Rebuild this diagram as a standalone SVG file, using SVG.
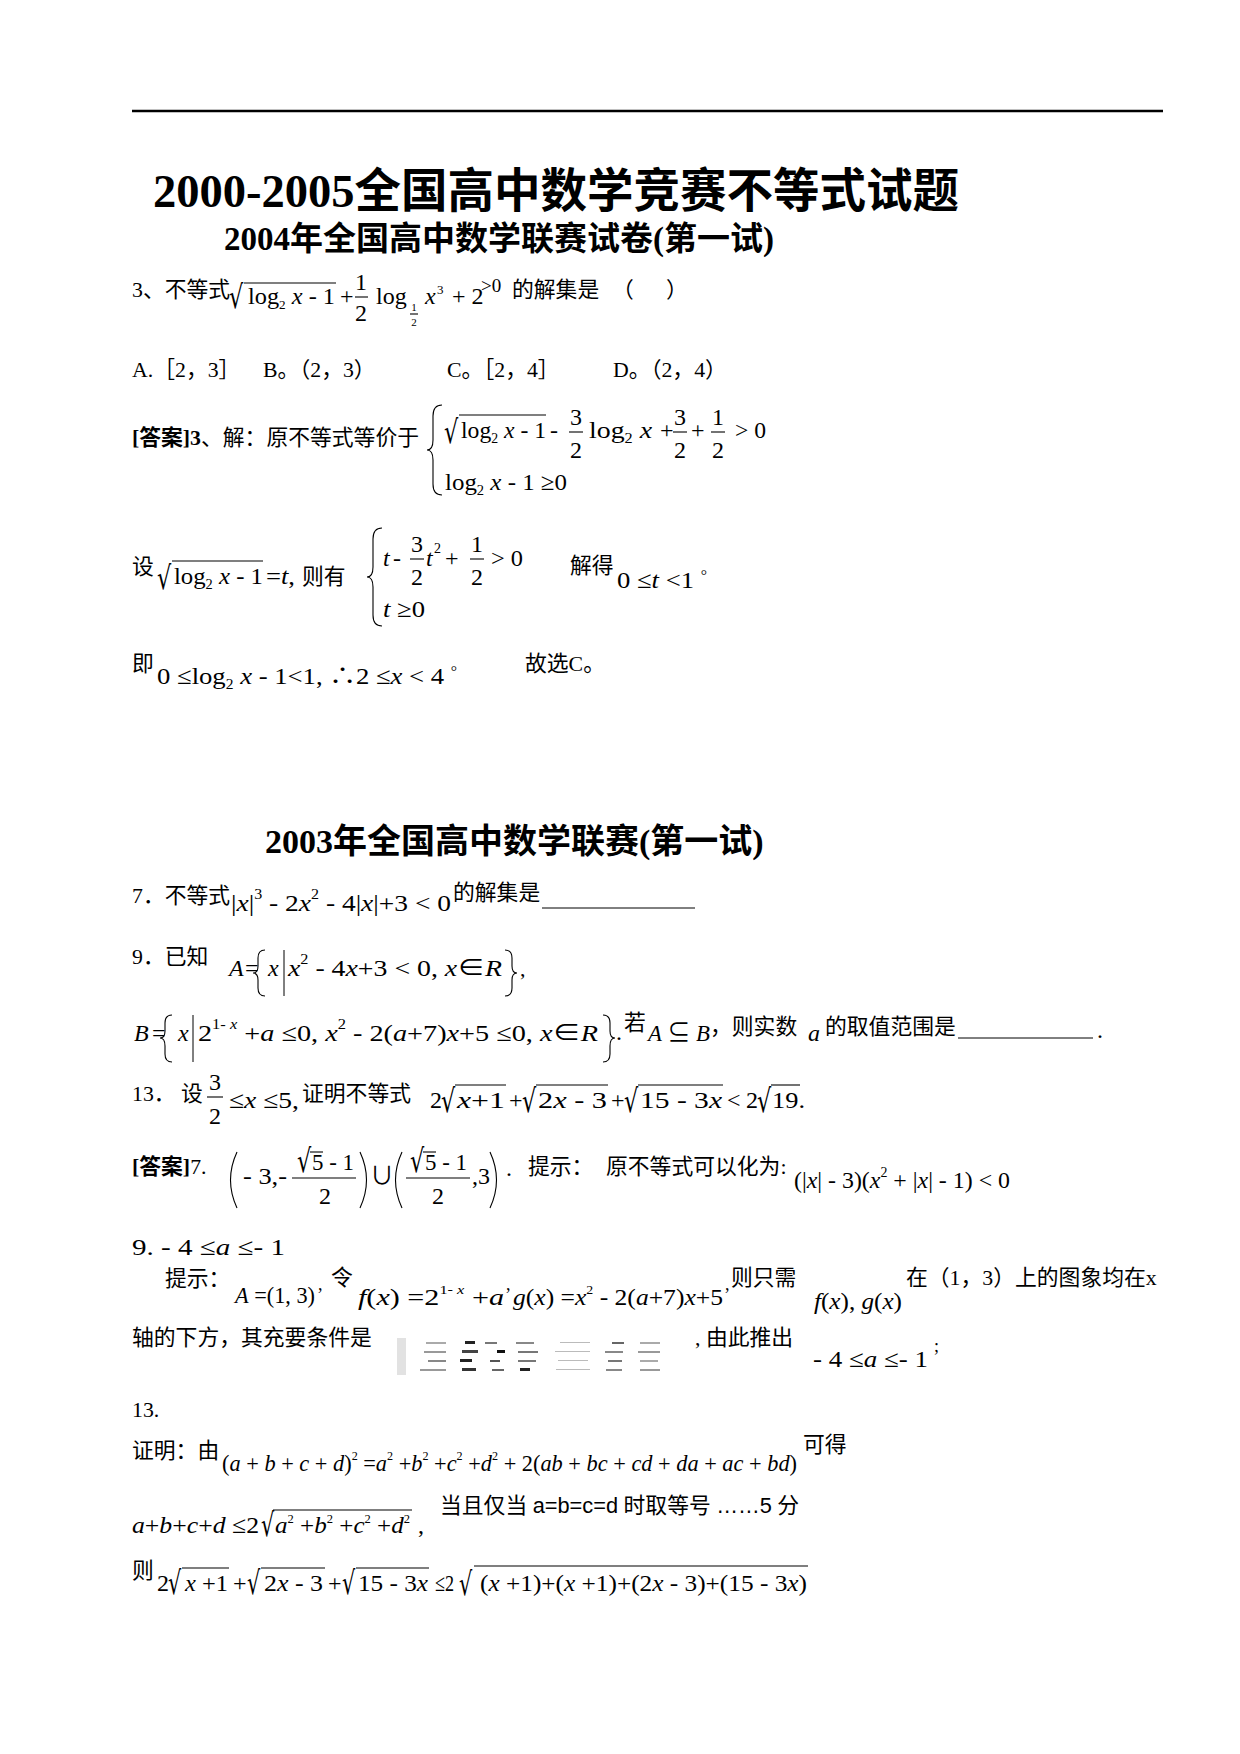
<svg xmlns="http://www.w3.org/2000/svg" width="1240" height="1754" viewBox="0 0 1240 1754">
<style>
text{font-family:"Liberation Serif","Noto Sans CJK SC",serif;fill:#000}
.cn{font-size:21.8px}
.m{font-size:24px}
.v{font-style:italic}
.b{font-weight:bold}
.ln{stroke:#000;stroke-width:1.1;fill:none}
.br{stroke:#000;stroke-width:1.1;fill:none}
.ctr{text-anchor:middle}
.sup{font-size:14px}
.rt{font-family:"DejaVu Serif",serif;font-size:32px}
</style>
<rect width="1240" height="1754" fill="#fff"/>
<line x1="132" y1="111" x2="1163" y2="111" stroke="#000" stroke-width="2.5"/>
<g id="title"><text x="153" y="207" font-size="46.5" class="b">2000-2005全国高中数学竞赛不等式试题</text></g>
<g id="subtitle-2004"><text x="224" y="250" font-size="33" class="b">2004年全国高中数学联赛试卷(第一试)</text></g>

<g id="p3">
<text class="cn" x="132" y="297">3、不等式</text>
<text class="rt" transform="translate(229,308) scale(0.7,1)">√</text>
<line class="ln" x1="244" y1="283" x2="336" y2="283"/>
<text class="m" x="248" y="304" textLength="87" lengthAdjust="spacingAndGlyphs">log<tspan font-size="13" dy="5">2</tspan><tspan class="v" dy="-5"> x</tspan> - 1</text>
<text class="m" x="340" y="304">+</text>
<text class="m ctr" x="361" y="290" font-size="23">1</text>
<line class="ln" x1="355" y1="297" x2="368" y2="297"/>
<text class="m ctr" x="361" y="321" font-size="23">2</text>
<text class="m" x="376" y="304">log</text>
<text class="ctr" x="414" y="311" font-size="11">1</text>
<line class="ln" x1="410" y1="314" x2="418" y2="314" stroke-width="0.8"/>
<text class="ctr" x="414" y="326" font-size="11">2</text>
<text class="m v" x="425" y="304">x</text>
<text x="437" y="294" font-size="13">3</text>
<text class="m" x="452" y="304">+ 2</text>
<text x="481" y="292" font-size="19">&gt;0</text>
<text class="cn" x="512" y="297">的解集是</text>
<text class="cn" x="612" y="297">（</text>
<text class="cn" x="666" y="297">）</text>
</g>

<g id="p3-options">
<text class="cn" x="132" y="377">A.［2，3］</text>
<text class="cn" x="263" y="377">B。（2，3）</text>
<text class="cn" x="447" y="377">C。［2，4］</text>
<text class="cn" x="613" y="377">D。（2，4）</text>
</g>

<g id="a3">
<text class="cn" x="132" y="445"><tspan class="b">[答案]3</tspan>、解：原不等式等价于</text>
<path class="br" d="M442,405 Q433,405 433,416 L433,440 Q433,450 427,450 Q433,450 433,460 L433,484 Q433,495 442,495"/>
<text class="rt" transform="translate(444,443) scale(0.7,1)">√</text>
<line class="ln" x1="459" y1="415" x2="546" y2="415"/>
<text class="m" x="461" y="438" font-size="26" textLength="85" lengthAdjust="spacingAndGlyphs">log<tspan font-size="14" dy="5">2</tspan><tspan class="v" dy="-5"> x</tspan> - 1</text>
<text class="m" x="550" y="438" font-size="26">-</text>
<text class="m ctr" x="576" y="425" font-size="26">3</text>
<line class="ln" x1="569" y1="432" x2="583" y2="432"/>
<text class="m ctr" x="576" y="458" font-size="26">2</text>
<text class="m" x="589" y="438" font-size="26" textLength="63" lengthAdjust="spacingAndGlyphs">log<tspan font-size="14" dy="5">2</tspan><tspan class="v" dy="-5"> x</tspan></text>
<text class="m" x="660" y="438" font-size="26">+</text>
<text class="m ctr" x="680" y="425" font-size="26">3</text>
<line class="ln" x1="673" y1="432" x2="687" y2="432"/>
<text class="m ctr" x="680" y="458" font-size="26">2</text>
<text class="m" x="691" y="438" font-size="26">+</text>
<text class="m ctr" x="718" y="425" font-size="26">1</text>
<line class="ln" x1="711" y1="432" x2="725" y2="432"/>
<text class="m ctr" x="718" y="458" font-size="26">2</text>
<text class="m" x="735" y="438" font-size="26" textLength="31" lengthAdjust="spacingAndGlyphs">&gt; 0</text>
<text class="m" x="445" y="490" font-size="26" textLength="122" lengthAdjust="spacingAndGlyphs">log<tspan font-size="14" dy="5">2</tspan><tspan class="v" dy="-5"> x</tspan> - 1 ≥0</text>
</g>

<g id="a3-sub">
<text class="cn" x="132" y="574">设</text>
<text class="rt" transform="translate(157,589) scale(0.7,1)">√</text>
<line class="ln" x1="172" y1="561" x2="263" y2="561"/>
<text class="m" x="174" y="584" font-size="26" textLength="89" lengthAdjust="spacingAndGlyphs">log<tspan font-size="14" dy="5">2</tspan><tspan class="v" dy="-5"> x</tspan> - 1</text>
<text class="m" x="266" y="584" font-size="26" textLength="29" lengthAdjust="spacingAndGlyphs">=<tspan class="v">t</tspan>,</text>
<text class="cn" x="302" y="584">则有</text>
<path class="br" d="M382,528 Q373,528 373,539 L373,567 Q373,577 367,577 Q373,577 373,587 L373,615 Q373,626 382,626"/>
<text class="m v" x="383" y="566" font-size="26">t</text>
<text class="m" x="393" y="566" font-size="26">-</text>
<text class="m ctr" x="417" y="552" font-size="26">3</text>
<line class="ln" x1="410" y1="559" x2="424" y2="559"/>
<text class="m ctr" x="417" y="585" font-size="26">2</text>
<text class="m v" x="426" y="566" font-size="26">t</text>
<text x="434" y="553" font-size="14">2</text>
<text class="m" x="445" y="566" font-size="26">+</text>
<text class="m ctr" x="477" y="552" font-size="26">1</text>
<line class="ln" x1="470" y1="559" x2="484" y2="559"/>
<text class="m ctr" x="477" y="585" font-size="26">2</text>
<text class="m" x="491" y="566" font-size="26" textLength="32" lengthAdjust="spacingAndGlyphs">&gt; 0</text>
<text class="m" x="383" y="617" font-size="26" textLength="42" lengthAdjust="spacingAndGlyphs"><tspan class="v">t</tspan> ≥0</text>
<text class="cn" x="570" y="573">解得</text>
<text class="m" x="617" y="588" font-size="26" textLength="90" lengthAdjust="spacingAndGlyphs">0 ≤<tspan class="v">t</tspan> &lt;1 <tspan font-size="14" dy="-8">°</tspan></text>
</g>

<g id="a3-result">
<text class="cn" x="132" y="671">即</text>
<text class="m" x="157" y="684" font-size="26" textLength="300" lengthAdjust="spacingAndGlyphs">0 ≤log<tspan font-size="14" dy="5">2</tspan><tspan class="v" dy="-5"> x</tspan> - 1&lt;1,  ∴2 ≤<tspan class="v">x</tspan> &lt; 4 <tspan font-size="14" dy="-8">°</tspan></text>
<text class="cn" x="525" y="671">故选C。</text>
</g>

<g id="subtitle-2003"><text x="265" y="853" font-size="34" class="b">2003年全国高中数学联赛(第一试)</text></g>

<g id="p7">
<text class="cn" x="132" y="903">7．不等式</text>
<text class="m" x="231" y="911" font-size="27" textLength="220" lengthAdjust="spacingAndGlyphs">|<tspan class="v">x</tspan>|<tspan class="sup" dy="-12">3</tspan><tspan dy="12"> - 2</tspan><tspan class="v">x</tspan><tspan class="sup" dy="-12">2</tspan><tspan dy="12"> - 4|</tspan><tspan class="v">x</tspan>|+3 &lt; 0</text>
<text class="cn" x="453" y="900">的解集是</text>
<line x1="542" y1="908" x2="695" y2="908" stroke="#000" stroke-width="1"/>
</g>

<g id="p9">
<text class="cn" x="132" y="964">9．已知</text>
<text class="m v" x="229" y="976" font-size="27">A</text>
<text class="m" x="245" y="976" font-size="27">=</text>
<path class="br" stroke-width="0.9" d="M265,950 Q258,950 258,958 L258,966 Q258,973 253,973 Q258,973 258,980 L258,988 Q258,996 265,996"/>
<text class="m v" x="268" y="976" font-size="27">x</text>
<line x1="284" y1="950" x2="284" y2="996" stroke="#000" stroke-width="1"/>
<text class="m" x="288" y="976" font-size="27" textLength="214" lengthAdjust="spacingAndGlyphs"><tspan class="v">x</tspan><tspan class="sup" dy="-12">2</tspan><tspan dy="12"> - 4</tspan><tspan class="v">x</tspan>+3 &lt; 0, <tspan class="v">x</tspan>∈<tspan class="v">R</tspan></text>
<path class="br" stroke-width="0.9" d="M505,950 Q512,950 512,958 L512,966 Q512,973 517,973 Q512,973 512,980 L512,988 Q512,996 505,996"/>
<text class="cn" x="520" y="976">,</text>

<text class="m v" x="134" y="1041" font-size="27">B</text>
<text class="m" x="152" y="1041" font-size="27">=</text>
<path class="br" stroke-width="0.9" d="M172,1015 Q165,1015 165,1023 L165,1031 Q165,1038 160,1038 Q165,1038 165,1046 L165,1054 Q165,1062 172,1062"/>
<text class="m v" x="178" y="1041" font-size="27">x</text>
<line x1="193" y1="1015" x2="193" y2="1062" stroke="#000" stroke-width="1"/>
<text class="m" x="198" y="1041" font-size="27" textLength="400" lengthAdjust="spacingAndGlyphs">2<tspan class="sup" dy="-12">1- <tspan class="v">x</tspan></tspan><tspan dy="12"> +</tspan><tspan class="v">a</tspan> ≤0, <tspan class="v">x</tspan><tspan class="sup" dy="-12">2</tspan><tspan dy="12"> - 2(</tspan><tspan class="v">a</tspan>+7)<tspan class="v">x</tspan>+5 ≤0, <tspan class="v">x</tspan>∈<tspan class="v">R</tspan></text>
<path class="br" stroke-width="0.9" d="M603,1015 Q610,1015 610,1023 L610,1031 Q610,1038 615,1038 Q610,1038 610,1046 L610,1054 Q610,1062 603,1062"/>
<text class="m" x="616" y="1040">.</text>
<text class="cn" x="624" y="1030" font-size="19">若</text>
<text class="m" x="648" y="1041" font-size="27" textLength="62" lengthAdjust="spacingAndGlyphs"><tspan class="v">A</tspan> ⊆ <tspan class="v">B</tspan></text>
<text class="cn" x="710" y="1034">，则实数</text>
<text class="m v" x="808" y="1041" font-size="27">a</text>
<text class="cn" x="825" y="1034">的取值范围是</text>
<line x1="958" y1="1038" x2="1093" y2="1038" stroke="#000" stroke-width="1"/>
<text class="m" x="1097" y="1038">.</text>
</g>

<g id="p13">
<text class="cn" x="132" y="1101">13． 设</text>
<text class="m ctr" x="215" y="1090" font-size="27">3</text>
<line class="ln" x1="207" y1="1097" x2="223" y2="1097"/>
<text class="m ctr" x="215" y="1124" font-size="27">2</text>
<text class="m" x="229" y="1108" font-size="26" textLength="70" lengthAdjust="spacingAndGlyphs">≤<tspan class="v">x</tspan> ≤5,</text>
<text class="cn" x="302" y="1101">证明不等式</text>
<text class="m" x="430" y="1108" font-size="27">2</text>
<text class="rt" transform="translate(441,1112) scale(0.7,1)">√</text>
<line class="ln" x1="455" y1="1085" x2="506" y2="1085"/>
<text class="m" x="457" y="1108" font-size="27" textLength="48" lengthAdjust="spacingAndGlyphs"><tspan class="v">x</tspan>+1</text>
<text class="m" x="509" y="1108" font-size="27">+</text>
<text class="rt" transform="translate(522,1112) scale(0.7,1)">√</text>
<line class="ln" x1="536" y1="1085" x2="608" y2="1085"/>
<text class="m" x="538" y="1108" font-size="27" textLength="69" lengthAdjust="spacingAndGlyphs">2<tspan class="v">x</tspan> - 3</text>
<text class="m" x="611" y="1108" font-size="27">+</text>
<text class="rt" transform="translate(624,1112) scale(0.7,1)">√</text>
<line class="ln" x1="638" y1="1085" x2="723" y2="1085"/>
<text class="m" x="640" y="1108" font-size="27" textLength="82" lengthAdjust="spacingAndGlyphs">15 - 3<tspan class="v">x</tspan></text>
<text class="m" x="727" y="1108" font-size="27">&lt;</text>
<text class="m" x="746" y="1108" font-size="27">2</text>
<text class="rt" transform="translate(757,1112) scale(0.7,1)">√</text>
<line class="ln" x1="771" y1="1085" x2="800" y2="1085"/>
<text class="m" x="772" y="1108" font-size="27" textLength="33" lengthAdjust="spacingAndGlyphs">19.</text>
</g>

<g id="a7">
<text class="cn" x="132" y="1174"><tspan class="b">[答案]</tspan>7.</text>
<path class="br" d="M237,1152 Q224,1180 237,1208"/>
<text class="m" x="243" y="1184" font-size="25" textLength="44" lengthAdjust="spacingAndGlyphs">- 3,-</text>
<text class="rt" font-size="26" transform="translate(297,1172) scale(0.7,1)">√</text>
<line class="ln" x1="310" y1="1152" x2="323" y2="1152"/>
<text class="m" x="312" y="1170" font-size="25" textLength="42" lengthAdjust="spacingAndGlyphs">5 - 1</text>
<line class="ln" x1="292" y1="1178" x2="356" y2="1178"/>
<text class="m ctr" x="325" y="1204" font-size="25">2</text>
<path class="br" d="M360,1152 Q373,1180 360,1208"/>
<text class="m" x="370" y="1184">∪</text>
<path class="br" d="M402,1152 Q389,1180 402,1208"/>
<text class="rt" font-size="26" transform="translate(410,1172) scale(0.7,1)">√</text>
<line class="ln" x1="423" y1="1152" x2="436" y2="1152"/>
<text class="m" x="425" y="1170" font-size="25" textLength="42" lengthAdjust="spacingAndGlyphs">5 - 1</text>
<line class="ln" x1="406" y1="1178" x2="470" y2="1178"/>
<text class="m ctr" x="438" y="1204" font-size="25">2</text>
<text class="m" x="472" y="1184" font-size="25">,3</text>
<path class="br" d="M490,1152 Q503,1180 490,1208"/>
<text class="m" x="506" y="1176">.</text>
<text class="cn" x="528" y="1174">提示：</text>
<text class="cn" x="606" y="1174">原不等式可以化为:</text>
<text class="m" x="794" y="1188" font-size="25" textLength="216" lengthAdjust="spacingAndGlyphs">(|<tspan class="v">x</tspan>| - 3)(<tspan class="v">x</tspan><tspan class="sup" dy="-11">2</tspan><tspan dy="11"> + |</tspan><tspan class="v">x</tspan>| - 1) &lt; 0</text>
</g>

<g id="a9">
<text class="m" x="132" y="1255" font-size="25" textLength="153" lengthAdjust="spacingAndGlyphs">9.  - 4 ≤<tspan class="v">a</tspan> ≤- 1</text>
<text class="cn" x="165" y="1286">提示：</text>
<text class="m" x="235" y="1303" textLength="80" lengthAdjust="spacingAndGlyphs"><tspan class="v">A</tspan> =(1, 3)</text>
<text x="318" y="1290" font-size="18">,</text>
<text class="cn" x="331" y="1285">令</text>
<text class="m" x="358" y="1305" font-size="25" textLength="146" lengthAdjust="spacingAndGlyphs"><tspan class="v">f</tspan>(<tspan class="v">x</tspan>) =2<tspan font-size="13" dy="-11">1- <tspan class="v">x</tspan></tspan><tspan dy="11"> +</tspan><tspan class="v">a</tspan></text>
<text x="506" y="1290" font-size="18">,</text>
<text class="m" x="513" y="1305" font-size="25" textLength="210" lengthAdjust="spacingAndGlyphs"><tspan class="v">g</tspan>(<tspan class="v">x</tspan>) =<tspan class="v">x</tspan><tspan font-size="13" dy="-11">2</tspan><tspan dy="11"> - 2(</tspan><tspan class="v">a</tspan>+7)<tspan class="v">x</tspan>+5</text>
<text x="725" y="1290" font-size="18">,</text>
<text class="cn" x="731" y="1285">则只需</text>
<text class="m" x="814" y="1309" font-size="25" textLength="88" lengthAdjust="spacingAndGlyphs"><tspan class="v">f</tspan>(<tspan class="v">x</tspan>), <tspan class="v">g</tspan>(<tspan class="v">x</tspan>)</text>
<text class="cn" x="906" y="1285">在（1，3）上的图象均在x</text>
<text class="cn" x="132" y="1345">轴的下方，其充要条件是</text>
<g id="blurred-formula">
<rect x="397" y="1338" width="9" height="37" fill="#e2e2e2"/>
<rect x="426" y="1342" width="20" height="2" fill="#aaa"/>
<rect x="465" y="1341" width="10" height="3" fill="#222"/>
<rect x="485" y="1342" width="12" height="2" fill="#777"/>
<rect x="516" y="1342" width="18" height="2" fill="#888"/>
<rect x="560" y="1342" width="30" height="1" fill="#bbb"/>
<rect x="612" y="1342" width="12" height="2" fill="#666"/>
<rect x="640" y="1342" width="20" height="2" fill="#aaa"/>
<rect x="424" y="1351" width="22" height="2" fill="#999"/>
<rect x="462" y="1350" width="16" height="3" fill="#444"/>
<rect x="497" y="1350" width="8" height="3" fill="#111"/>
<rect x="518" y="1351" width="20" height="2" fill="#777"/>
<rect x="555" y="1351" width="35" height="1" fill="#bbb"/>
<rect x="605" y="1351" width="18" height="2" fill="#888"/>
<rect x="638" y="1351" width="22" height="2" fill="#999"/>
<rect x="428" y="1360" width="18" height="2" fill="#888"/>
<rect x="460" y="1359" width="12" height="3" fill="#222"/>
<rect x="490" y="1360" width="10" height="2" fill="#555"/>
<rect x="518" y="1360" width="18" height="2" fill="#777"/>
<rect x="558" y="1360" width="30" height="1" fill="#bbb"/>
<rect x="608" y="1360" width="14" height="2" fill="#777"/>
<rect x="640" y="1360" width="18" height="2" fill="#aaa"/>
<rect x="420" y="1369" width="26" height="2" fill="#999"/>
<rect x="462" y="1368" width="14" height="3" fill="#333"/>
<rect x="492" y="1369" width="12" height="2" fill="#666"/>
<rect x="520" y="1368" width="10" height="3" fill="#222"/>
<rect x="556" y="1369" width="34" height="1" fill="#bbb"/>
<rect x="606" y="1369" width="16" height="2" fill="#888"/>
<rect x="640" y="1369" width="20" height="2" fill="#999"/>
</g>
<text class="cn" x="695" y="1345">, 由此推出</text>
<text class="m" x="813" y="1367" font-size="25" textLength="115" lengthAdjust="spacingAndGlyphs">- 4 ≤<tspan class="v">a</tspan> ≤- 1</text>
<text x="934" y="1352" font-size="18">;</text>
</g>

<g id="a13">
<text class="cn" x="132" y="1417">13.</text>
<text class="cn" x="132" y="1458">证明：由</text>
<text class="m" x="222" y="1471" font-size="24" textLength="575" lengthAdjust="spacingAndGlyphs">(<tspan class="v">a</tspan> + <tspan class="v">b</tspan> + <tspan class="v">c</tspan> + <tspan class="v">d</tspan>)<tspan font-size="13" dy="-11">2</tspan><tspan dy="11">  =</tspan><tspan class="v">a</tspan><tspan font-size="13" dy="-11">2</tspan><tspan dy="11"> +</tspan><tspan class="v">b</tspan><tspan font-size="13" dy="-11">2</tspan><tspan dy="11"> +</tspan><tspan class="v">c</tspan><tspan font-size="13" dy="-11">2</tspan><tspan dy="11"> +</tspan><tspan class="v">d</tspan><tspan font-size="13" dy="-11">2</tspan><tspan dy="11"> + 2(</tspan><tspan class="v">ab</tspan> + <tspan class="v">bc</tspan> + <tspan class="v">cd</tspan> + <tspan class="v">da</tspan> + <tspan class="v">ac</tspan> + <tspan class="v">bd</tspan>)</text>
<text class="cn" x="803" y="1452">可得</text>
<text class="m" x="132" y="1533" font-size="23" textLength="127" lengthAdjust="spacingAndGlyphs"><tspan class="v">a</tspan>+<tspan class="v">b</tspan>+<tspan class="v">c</tspan>+<tspan class="v">d</tspan> ≤2</text>
<text class="rt" font-size="27" transform="translate(261,1536) scale(0.65,1)">√</text>
<line class="ln" x1="273" y1="1510" x2="412" y2="1510" stroke-width="0.9"/>
<text class="m" x="275" y="1533" font-size="23" textLength="135" lengthAdjust="spacingAndGlyphs"><tspan class="v">a</tspan><tspan font-size="12" dy="-10">2</tspan><tspan dy="10"> +</tspan><tspan class="v">b</tspan><tspan font-size="12" dy="-10">2</tspan><tspan dy="10"> +</tspan><tspan class="v">c</tspan><tspan font-size="12" dy="-10">2</tspan><tspan dy="10"> +</tspan><tspan class="v">d</tspan><tspan font-size="12" dy="-10">2</tspan></text>
<text class="m" x="418" y="1533" font-size="20">,</text>
<text class="cn" x="440" y="1513">当且仅当 <tspan font-family="Liberation Sans">a=b=c=d</tspan> 时取等号  <tspan font-family="Liberation Sans">……5</tspan> 分</text>
<text class="cn" x="132" y="1578">则</text>
<text class="m" x="157" y="1591" font-size="24">2</text>
<text class="rt" font-size="29" transform="translate(168,1594) scale(0.65,1)">√</text>
<line class="ln" x1="182" y1="1568" x2="229" y2="1568" stroke-width="0.9"/>
<text class="m" x="185" y="1591" font-size="24" textLength="43" lengthAdjust="spacingAndGlyphs"><tspan class="v">x</tspan> +1</text>
<text class="m" x="233" y="1591" font-size="24">+</text>
<text class="rt" font-size="29" transform="translate(247,1594) scale(0.65,1)">√</text>
<line class="ln" x1="261" y1="1568" x2="325" y2="1568" stroke-width="0.9"/>
<text class="m" x="264" y="1591" font-size="24" textLength="59" lengthAdjust="spacingAndGlyphs">2<tspan class="v">x</tspan> - 3</text>
<text class="m" x="328" y="1591" font-size="24">+</text>
<text class="rt" font-size="29" transform="translate(342,1594) scale(0.65,1)">√</text>
<line class="ln" x1="356" y1="1568" x2="429" y2="1568" stroke-width="0.9"/>
<text class="m" x="358" y="1591" font-size="24" textLength="70" lengthAdjust="spacingAndGlyphs">15 - 3<tspan class="v">x</tspan></text>
<text class="m" x="435" y="1591" font-size="24" textLength="19" lengthAdjust="spacingAndGlyphs">≤2</text>
<text class="rt" font-size="31" transform="translate(459,1595) scale(0.65,1)">√</text>
<line class="ln" x1="474" y1="1566" x2="808" y2="1566" stroke-width="0.9"/>
<text class="m" x="480" y="1591" font-size="24" textLength="327" lengthAdjust="spacingAndGlyphs">(<tspan class="v">x</tspan> +1)+(<tspan class="v">x</tspan> +1)+(2<tspan class="v">x</tspan> - 3)+(15 - 3<tspan class="v">x</tspan>)</text>
</g>
</svg>
